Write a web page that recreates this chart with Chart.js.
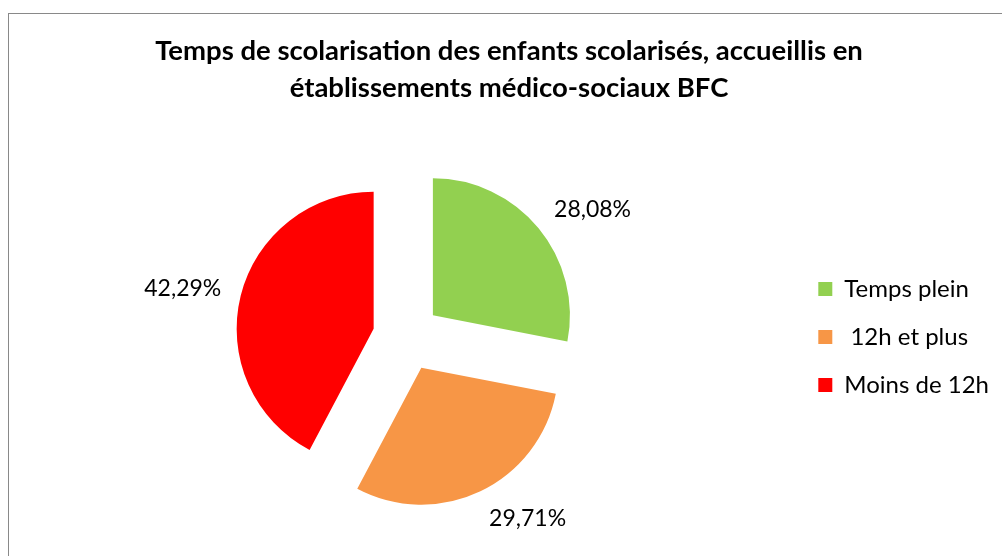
<!DOCTYPE html>
<html lang="fr">
<head>
    <meta charset="UTF-8">
    <title>Temps de scolarisation</title>
    <style>
        html, body {
            margin: 0;
            padding: 0;
            background: #fff;
            overflow: hidden;
            width: 1002px;
            height: 556px;
        }
        .frame {
            position: absolute;
            left: 8px;
            top: 13px;
            width: 1200px;
            height: 800px;
            border: 1.5px solid #898989;
        }
        .wrap {
            position: absolute;
            left: 0;
            top: 0;
            width: 1024px;
            height: 556px;
        }
    </style>
    <script src="https://cdn.jsdelivr.net/npm/chart.js"></script>
</head>
<body>
<div class="frame"></div>
<div class="wrap"><canvas id="pieChart"></canvas></div>
<script>
    const titleLines = ['Temps de scolarisation des enfants scolarisés, accueillis en', 'établissements médico-sociaux BFC'];
    const categories = ['Temps plein', ' 12h et plus', 'Moins de 12h'];
    const shares = [28.08, 29.71, 42.29];
    const sliceColors = ['#92D050', '#F79646', '#FF0000'];

    const explodeOffset = 34;
    const labelGap = 20;

    // slices pulled out along their bisector, drawn by chart.js arcs
    const explodePlugin = {
        id: 'explode',
        beforeDatasetDraw(chart, args) {
            const ctx = chart.ctx;
            args.meta.data.forEach(arc => {
                const mid = (arc.startAngle + arc.endAngle) / 2;
                ctx.save();
                ctx.translate(Math.cos(mid) * explodeOffset, Math.sin(mid) * explodeOffset);
                arc.draw(ctx);
                ctx.restore();
            });
            return false;
        }
    };

    const clamp = v => Math.max(-1, Math.min(1, v));

    // percentage labels outside the end of each slice
    const labelPlugin = {
        id: 'outsideLabels',
        afterDatasetsDraw(chart) {
            const ctx = chart.ctx;
            const meta = chart.getDatasetMeta(0);
            ctx.save();
            ctx.font = '23px Lato';
            ctx.fillStyle = '#000';
            ctx.textAlign = 'center';
            ctx.textBaseline = 'middle';
            meta.data.forEach((arc, i) => {
                const text = shares[i].toFixed(2).replace('.', ',') + '%';
                const mid = (arc.startAngle + arc.endAngle) / 2;
                const dx = Math.cos(mid), dy = Math.sin(mid);
                const dist = explodeOffset + arc.outerRadius + labelGap;
                const w = ctx.measureText(text).width;
                const h = 20;
                const x = arc.x + dx * dist + clamp(dx * 3) * w / 2;
                const y = arc.y + dy * dist + dy * h / 2;
                ctx.fillText(text, x, y);
            });
            ctx.restore();
        }
    };

    new Chart(document.getElementById('pieChart'), {
        type: 'pie',
        data: {
            labels: categories,
            datasets: [{
                data: shares,
                backgroundColor: sliceColors,
                borderWidth: 0
            }]
        },
        options: {
            responsive: true,
            maintainAspectRatio: false,
            animation: false,
            radius: 137,
            layout: {
                padding: {left: 19, right: 25, top: 0, bottom: 0}
            },
            plugins: {
                title: {
                    display: true,
                    text: titleLines,
                    color: '#000',
                    font: {family: 'Lato', size: 27.5, weight: 'bold', lineHeight: 1.345},
                    padding: {top: 33, bottom: 11}
                },
                legend: {
                    position: 'right',
                    fullSize: false,
                    labels: {
                        color: '#000',
                        font: {family: 'Lato', size: 24},
                        boxWidth: 14,
                        boxHeight: 14,
                        padding: 24
                    }
                },
                tooltip: {enabled: false}
            }
        },
        plugins: [explodePlugin, labelPlugin]
    });
</script>
</body>
</html>
